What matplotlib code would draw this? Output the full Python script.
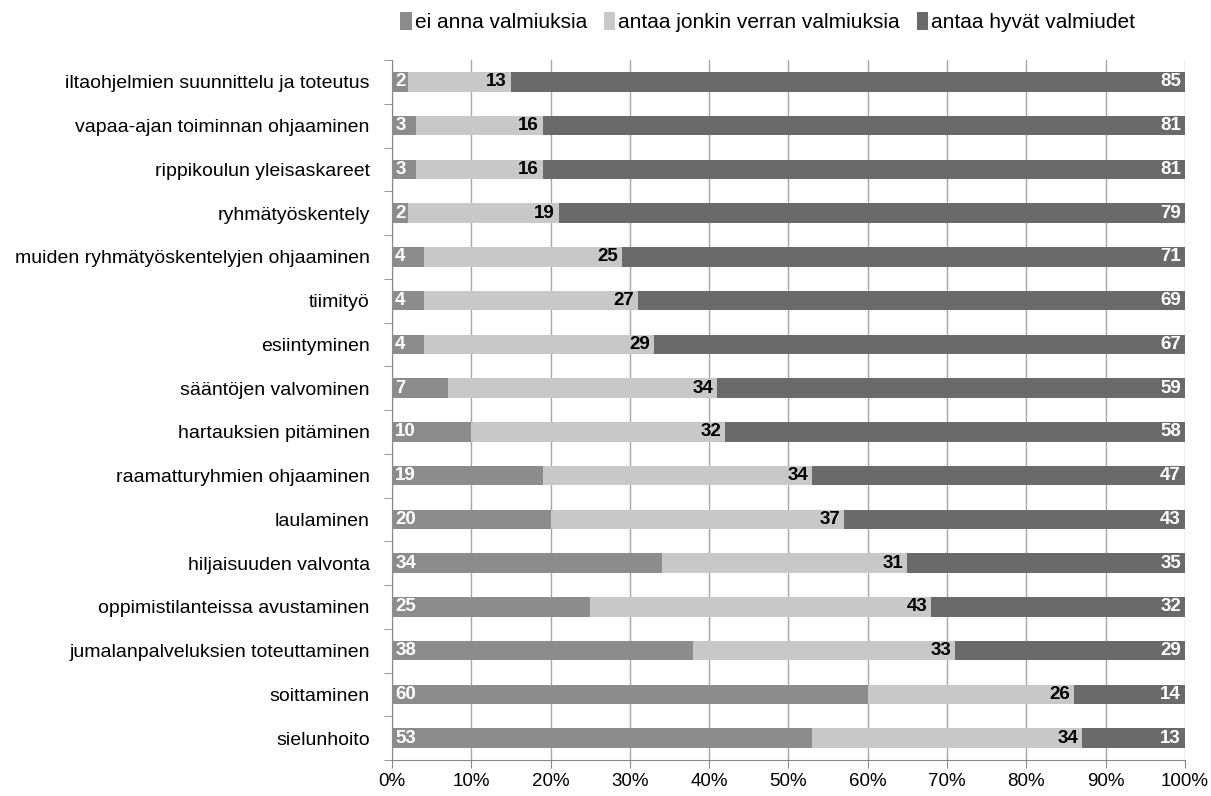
import matplotlib
matplotlib.use("Agg")
import matplotlib.pyplot as plt
from matplotlib import font_manager
import numpy as np

names = [f.name for f in font_manager.fontManager.ttflist]
narrow = "Liberation Sans Narrow" if "Liberation Sans Narrow" in names else "Liberation Sans"
plt.rcParams["font.family"] = [narrow, "DejaVu Sans"]

categories = [
    "iltaohjelmien suunnittelu ja toteutus",
    "vapaa-ajan toiminnan ohjaaminen",
    "rippikoulun yleisaskareet",
    "ryhmätyöskentely",
    "muiden ryhmätyöskentelyjen ohjaaminen",
    "tiimityö",
    "esiintyminen",
    "sääntöjen valvominen",
    "hartauksien pitäminen",
    "raamatturyhmien ohjaaminen",
    "laulaminen",
    "hiljaisuuden valvonta",
    "oppimistilanteissa avustaminen",
    "jumalanpalveluksien toteuttaminen",
    "soittaminen",
    "sielunhoito",
]
ei_anna = [2, 3, 3, 2, 4, 4, 4, 7, 10, 19, 20, 34, 25, 38, 60, 53]
jonkin_verran = [13, 16, 16, 19, 25, 27, 29, 34, 32, 34, 37, 31, 43, 33, 26, 34]
hyvat = [85, 81, 81, 79, 71, 69, 67, 59, 58, 47, 43, 35, 32, 29, 14, 13]
series_names = ["ei anna valmiuksia", "antaa jonkin verran valmiuksia", "antaa hyvät valmiudet"]
colors = ["#8c8c8c", "#c8c8c8", "#6a6a6a"]

fig = plt.figure(figsize=(12.11, 7.96), dpi=100)
ax = fig.add_axes([0.3237, 0.0452, 0.6548, 0.8794])

y = np.arange(len(categories))
a = np.array(ei_anna, dtype=float)
b = np.array(jonkin_verran, dtype=float)
c = np.array(hyvat, dtype=float)
tot = a + b + c
pa, pb, pc = a / tot, b / tot, c / tot

h = 0.45
ax.barh(y, pa, height=h, color=colors[0], label=series_names[0], zorder=3)
ax.barh(y, pb, left=pa, height=h, color=colors[1], label=series_names[1], zorder=3)
ax.barh(y, pc, left=pa + pb, height=h, color=colors[2], label=series_names[2], zorder=3)

for i in range(len(categories)):
    ax.text(0.004, y[i], str(ei_anna[i]), color="white", fontweight="bold",
            fontsize=13.5, ha="left", va="center", zorder=4)
    ax.text(pa[i] + pb[i] - 0.005, y[i], str(jonkin_verran[i]), color="black",
            fontweight="bold", fontsize=13.5, ha="right", va="center", zorder=4)
    ax.text(0.995, y[i], str(hyvat[i]), color="white", fontweight="bold",
            fontsize=13.5, ha="right", va="center", zorder=4)

ax.set_xlim(0, 1)
ax.set_ylim(len(categories) - 0.5, -0.5)
ax.set_xticks(np.linspace(0, 1, 11))
ax.set_xticklabels([f"{int(v)}%" for v in np.linspace(0, 100, 11)], fontsize=13.5)
ax.set_yticks(y)
ax.set_yticklabels(categories, fontsize=14)
ax.set_yticks(np.arange(-0.5, len(categories), 1), minor=True)
ax.tick_params(axis="y", which="major", length=0, pad=16)
ax.tick_params(axis="y", which="minor", length=6, color="#888888", direction="out")
ax.tick_params(axis="x", length=6, color="#888888", pad=3)
ax.grid(axis="x", color="#a6a6a6", linewidth=1, zorder=0)
for s in ["top", "right"]:
    ax.spines[s].set_visible(False)
for s in ["left", "bottom"]:
    ax.spines[s].set_color("#888888")

ax.legend(loc="center", bbox_to_anchor=(0.474, 1.054), ncol=3, frameon=False,
          fontsize=15, handlelength=0.55, handleheight=0.9, handletextpad=0.15,
          columnspacing=0.8)

fig.savefig("out.png", dpi=100)
